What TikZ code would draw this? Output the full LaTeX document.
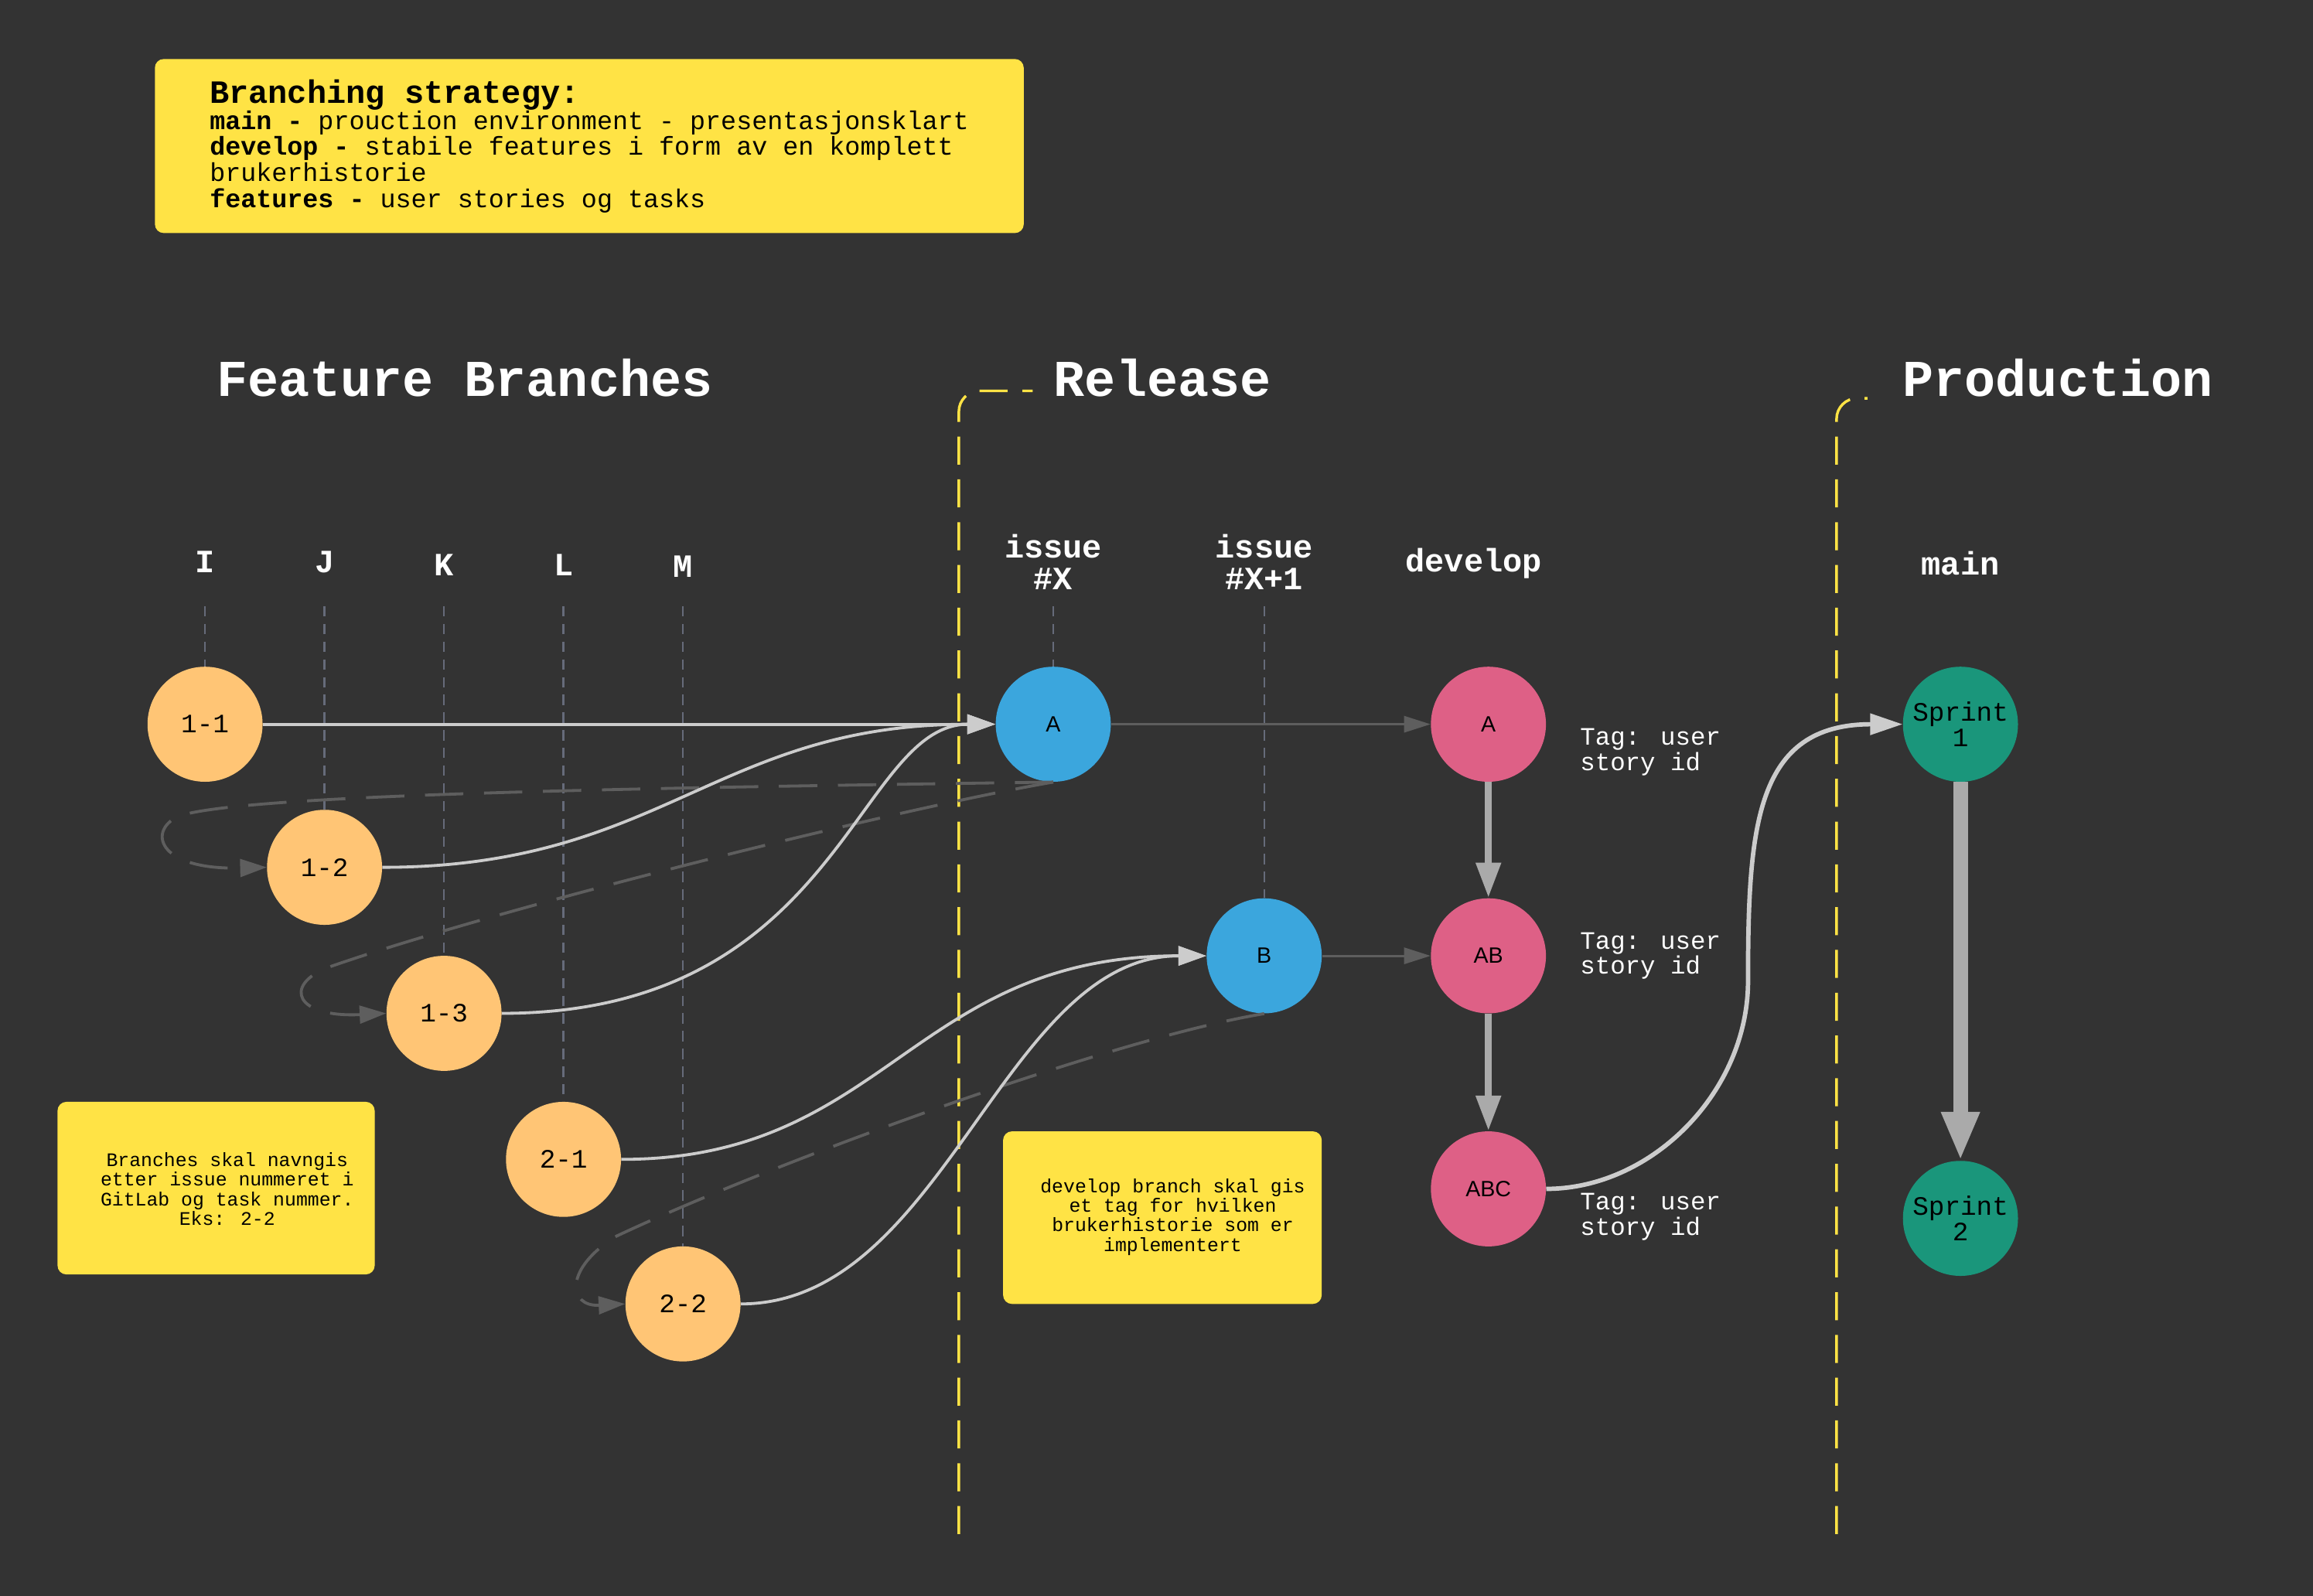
\documentclass[tikz,border=0pt]{standalone}
\usepackage{fontspec}
\setmainfont{Liberation Mono}
\newfontfamily\sansf{Liberation Sans}
\usetikzlibrary{arrows.meta}
\definecolor{bg}{HTML}{333333}
\definecolor{notey}{HTML}{FFE345}
\definecolor{feat}{HTML}{FFC575}
\definecolor{rel}{HTML}{3BA6DD}
\definecolor{devc}{HTML}{DE6086}
\definecolor{prod}{HTML}{1A967B}
\definecolor{lite}{HTML}{CCCCCC}
\definecolor{darkl}{HTML}{5E5E5E}
\definecolor{guidec}{HTML}{666B7A}
\definecolor{thickc}{HTML}{AAAAAA}
\definecolor{yl}{HTML}{FFE345}
\tikzset{
  commit/.style={circle, minimum size=78pt, inner sep=0pt, text=black},
  featc/.style={commit, fill=feat, font=\fontsize{18}{18}\selectfont},
  relc/.style={commit, fill=rel, font=\sansf\fontsize{15}{15}\selectfont},
  devn/.style={commit, fill=devc, font=\sansf\fontsize{15}{15}\selectfont},
  prodc/.style={commit, fill=prod, font=\fontsize{18}{17}\selectfont, align=center},
  title/.style={text=white, font=\fontsize{35}{35}\selectfont\bfseries, inner sep=0pt},
  collabel/.style={text=white, font=\fontsize{22}{22}\selectfont\bfseries, align=center, inner sep=0pt},
  taglabel/.style={text=white, font=\fontsize{17}{17}\selectfont, align=left, anchor=west, inner sep=0pt},
  notebox/.style={fill=notey, rounded corners=6pt, inner sep=0pt},
  notetext/.style={text=black, font=\fontsize{13}{13.3}\selectfont, align=center, inner sep=0pt},
  guide/.style={draw=guidec, line width=1.3pt, dash pattern=on 7pt off 5pt},
  yline/.style={draw=yl, line width=1.8pt, dash pattern=on 19pt off 10pt, rounded corners=14pt},
  merge/.style={draw=lite, line width=2pt, -{Triangle[length=19pt, width=13pt]}},
  fwd/.style={draw=darkl, line width=1.6pt, -{Triangle[length=18pt, width=11pt]}},
  back/.style={draw=darkl, line width=2pt, dash pattern=on 26pt off 14pt, -{Triangle[length=18pt, width=12pt]}},
  devarrow/.style={draw=thickc, line width=5pt, -{Triangle[length=24pt, width=16pt]}},
  prodarrow/.style={draw=thickc, line width=10pt, -{Triangle[length=33pt, width=24pt]}},
  release/.style={draw=lite, line width=3pt, -{Triangle[length=22pt, width=14pt]}}
}
\begin{document}
\begin{tikzpicture}[x=1pt, y=-1pt]
\fill[bg] (0,0) rectangle (1568,1082);
\useasboundingbox (0,0) rectangle (1568,1082);

% strategy box
\node[notebox, minimum width=589pt, minimum height=118pt] (strategy) at (399.5,99) {};
\node[anchor=north west, align=left, inner sep=0pt, text=black,
      font=\fontsize{17.5}{17.6}\selectfont] (strategyt) at (142,54)
  {{\fontsize{22}{20}\selectfont\bfseries Branching strategy:}\\
   \textbf{main -} prouction environment - presentasjonsklart\\
   \textbf{develop -} stabile features i form av en komplett\\
   brukerhistorie\\
   \textbf{features -} user stories og tasks};

% titles
\node[title] (tfeat) at (315,256) {Feature Branches};
\node[title] (trel) at (788,256) {Release};
\node[title] (tprod) at (1395,256) {Production};

% section dividers
\draw[yline] (650,1040) -- (650,265) -- (700,265);
\draw[yline] (1245,1040) -- (1245,270) -- (1266,270);

% column labels
\node[collabel] (lI) at (139,381) {I};
\node[collabel] (lJ) at (220,381) {J};
\node[collabel] (lK) at (301,383) {K};
\node[collabel] (lL) at (382,383) {L};
\node[collabel] (lM) at (463,384) {M};
\node[collabel] (lX) at (714,381) {issue\\\#X};
\node[collabel] (lX1) at (857,381) {issue\\\#X+1};
\node[collabel] (ldev) at (999,382) {develop};
\node[collabel] (lmain) at (1329,382) {main};
\coordinate (gtop) at (0,411);

% commits
\node[featc] (c11) at (139,491) {1-1};
\node[featc] (c12) at (220,588) {1-2};
\node[featc] (c13) at (301,687) {1-3};
\node[featc] (c21) at (382,786) {2-1};
\node[featc] (c22) at (463,884) {2-2};
\node[relc] (rA) at (714,491) {A};
\node[relc] (rB) at (857,648) {B};
\node[devn] (dA) at (1009,491) {A};
\node[devn] (dAB) at (1009,648) {AB};
\node[devn] (dABC) at (1009,806) {ABC};
\node[prodc] (s1) at (1329,491) {Sprint\\1};
\node[prodc] (s2) at (1329,826) {Sprint\\2};

% guides
\draw[guide] (lI |- gtop) -- (c11.north);
\draw[guide] (lJ |- gtop) -- (c12.north);
\draw[guide] (lK |- gtop) -- (c13.north);
\draw[guide] (lL |- gtop) -- (c21.north);
\draw[guide] (lM |- gtop) -- (c22.north);
\draw[guide] (lX |- gtop) -- (rA.north);
\draw[guide] (lX1 |- gtop) -- (rB.north);

% back (dashed) links
\draw[back] (rA.south) .. controls (450,534) and (170,538) .. (122,553)
   .. controls (100,562) and (105,590) .. (c12.west);
\draw[back] (rA.south) .. controls (600,550) and (330,618) .. (222,656)
   .. controls (192,668) and (200,690) .. (c13.west);
\draw[back] (rB.south) .. controls (750,705) and (520,790) .. (418,838)
   .. controls (382,860) and (385,886) .. (c22.west);

% merges into release
\draw[merge] (c11.east) -- (rA.west);
\draw[merge] (c12.east) .. controls (449,588) and (485,491) .. (rA.west);
\draw[merge] (c13.east) .. controls (570,687) and (580,491) .. (rA.west);
\draw[merge] (c21.east) .. controls (601,786) and (618,648) .. (rB.west);
\draw[merge] (c22.east) .. controls (640,884) and (680,648) .. (rB.west);

% release to develop
\draw[fwd] (rA.east) -- (dA.west);
\draw[fwd] (rB.east) -- (dAB.west);
\draw[devarrow] (dA.south) -- (dAB.north);
\draw[devarrow] (dAB.south) -- (dABC.north);

% develop to main
\draw[release] (dABC.east) .. controls (1120,806) and (1185,740) .. (1185,665)
   .. controls (1185,560) and (1190,491) .. (s1.west);
\draw[prodarrow] (s1.south) -- (s2.north);

% tags
\node[taglabel] (t1) at (1071,510) {Tag: user\\story id};
\node[taglabel] (t2) at (1071,648) {Tag: user\\story id};
\node[taglabel] (t3) at (1071,825) {Tag: user\\story id};

% notes
\node[notebox, minimum width=215pt, minimum height=117pt] (note1) at (146.5,805.5) {};
\node[notetext] (note1t) at (154,806) {Branches skal navngis\\etter issue nummeret i\\GitLab og task nummer.\\Eks: 2-2};
\node[notebox, minimum width=216pt, minimum height=117pt] (note2) at (788,825.5) {};
\node[notetext] (note2t) at (795,825) {develop branch skal gis\\et tag for hvilken\\brukerhistorie som er\\implementert};
\end{tikzpicture}
\end{document}
